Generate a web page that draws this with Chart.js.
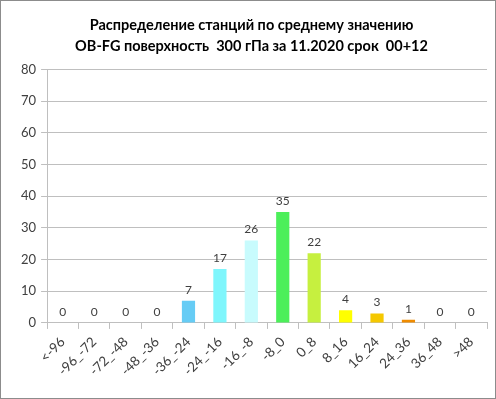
<!DOCTYPE html>
<html>
<head>
<meta charset="utf-8">
<script src="https://cdn.jsdelivr.net/npm/chart.js@4.4.0/dist/chart.umd.min.js"></script>
<style>
  html, body { margin: 0; padding: 0; background: #fff; }
  #box { width: 496px; height: 399px; box-sizing: border-box; border: 1px solid #8c8c8c; position: relative; }
  #chart { display: block; }
</style>
</head>
<body>
<div id="box"><canvas id="chart" width="494" height="397"></canvas></div>
<script>
// categories and counts
const categories = ['<-96', '-96_-72', '-72_-48', '-48_-36', '-36_-24', '-24_-16', '-16_-8', '-8_0', '0_8', '8_16', '16_24', '24_36', '36_48', '>48'];
const stationCounts = [0, 0, 0, 0, 7, 17, 26, 35, 22, 4, 3, 1, 0, 0];
const barColors = ['#66ccf5', '#66ccf5', '#66ccf5', '#66ccf5', '#66ccf5', '#7ff6fc', '#c8fbfd', '#4cef5a', '#c6f03f', '#ffff00', '#f5c800', '#f08c00', '#f08c00', '#f08c00'];
const yTicks = [0, 10, 20, 30, 40, 50, 60, 70, 80];
const titleLines = ['Распределение станций по среднему значению', 'OB-FG поверхность  300 гПа за 11.2020 срок  00+12'];

const FONT = 'Lato, "Open Sans", sans-serif';
const TEXT = '#404040';
const GRID = '#bfbfbf';

//VALUE LABELS ABOVE BARS
const valueLabels = {
  id: 'valueLabels',
  afterDatasetsDraw(chart) {
    const ctx = chart.ctx;
    const meta = chart.getDatasetMeta(0);
    ctx.save();
    ctx.font = '12px ' + FONT;
    ctx.fillStyle = TEXT;
    ctx.textAlign = 'center';
    ctx.textBaseline = 'bottom';
    meta.data.forEach((bar, i) => {
      ctx.fillText(String(stationCounts[i]), bar.x, bar.y - 5);
    });
    ctx.restore();
  }
};

new Chart(document.getElementById('chart'), {
  type: 'bar',
  data: {
    labels: categories,
    datasets: [{
      data: stationCounts,
      backgroundColor: barColors,
      borderWidth: 0,
      barPercentage: 0.42,
      categoryPercentage: 1
    }]
  },
  options: {
    responsive: false,
    animation: false,
    layout: { padding: { left: 15, right: 8, top: 9, bottom: 14 } },
    plugins: {
      legend: { display: false },
      tooltip: { enabled: false },
      title: {
        display: true,
        text: titleLines,
        color: '#000',
        font: { family: FONT, size: 14.5, weight: 'bold', lineHeight: 1.5 },
        padding: { top: 4, bottom: 12 }
      }
    },
    scales: {
      x: {
        grid: { drawOnChartArea: false, drawTicks: true, tickLength: 6, color: GRID, offset: true },
        border: { color: GRID },
        ticks: { color: TEXT, font: { family: FONT, size: 13.5 }, minRotation: 45, maxRotation: 45, padding: 5 }
      },
      y: {
        min: 0,
        max: 80,
        afterBuildTicks(scale) { scale.ticks = yTicks.map(v => ({ value: v })); },
        grid: { color: GRID, drawTicks: true, tickLength: 6 },
        border: { color: GRID },
        ticks: { color: TEXT, font: { family: FONT, size: 13 }, padding: 5 }
      }
    }
  },
  plugins: [valueLabels]
});
</script>
</body>
</html>
